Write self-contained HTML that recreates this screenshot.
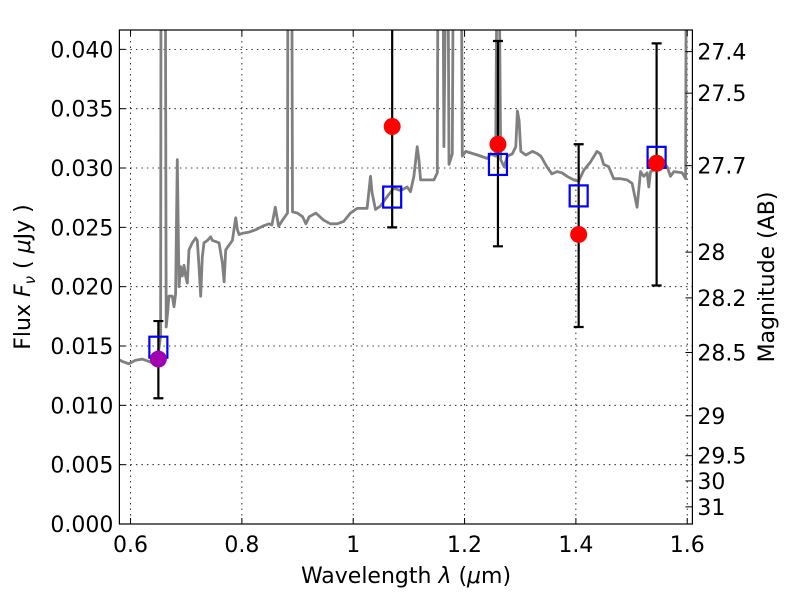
<!DOCTYPE html>
<html><head><meta charset="utf-8"><style>
body{margin:0;background:#fff}
svg text{font-family:"DejaVu Sans","Liberation Sans",sans-serif;fill:#000}
</style></head><body>
<svg id="chart" width="800" height="600" viewBox="0 0 800 600" xmlns="http://www.w3.org/2000/svg">
<defs><clipPath id="plotclip"><rect x="119.4" y="30" width="573" height="494"/></clipPath></defs>
<rect width="800" height="600" fill="#fff"/>
<g id="grid"></g>
<g id="spec" clip-path="url(#plotclip)"></g>
<g id="marks" clip-path="url(#plotclip)"></g>
<rect x="119.4" y="30" width="573" height="494" fill="none" stroke="#000" stroke-width="1.2"/>
<g id="axes"></g>
<text x="406" y="583" font-size="22" text-anchor="middle">Wavelength  <tspan font-style="italic">λ</tspan> (<tspan font-style="italic">μ</tspan>m)</text>
<text transform="translate(30,277) rotate(-90)" font-size="22" text-anchor="middle">Flux  <tspan font-style="italic">F</tspan><tspan font-style="italic" font-size="15" dy="5">ν</tspan><tspan dy="-5">  ( </tspan><tspan font-style="italic">μ</tspan>Jy )</text>
<text transform="translate(774,277) rotate(-90)" font-size="22" text-anchor="middle">Magnitude (AB)</text>
</svg>
<script>
const specLam=[0.573,0.585,0.597,0.609,0.621,0.633,0.642,0.648,0.654,0.655,0.662,0.664,0.667,0.669,0.675,0.678,0.681,0.684,0.687,0.690,0.693,0.696,0.699,0.702,0.705,0.711,0.717,0.720,0.723,0.726,0.729,0.732,0.738,0.744,0.747,0.753,0.759,0.765,0.768,0.771,0.777,0.783,0.789,0.792,0.795,0.801,0.813,0.825,0.837,0.849,0.854,0.860,0.866,0.873,0.882,0.883,0.889,0.891,0.900,0.909,0.915,0.921,0.933,0.947,0.959,0.971,0.983,0.995,1.007,1.025,1.031,1.034,1.040,1.049,1.061,1.073,1.085,1.097,1.103,1.109,1.115,1.118,1.121,1.145,1.151,1.153,1.160,1.163,1.169,1.172,1.178,1.181,1.193,1.196,1.202,1.223,1.241,1.247,1.256,1.260,1.265,1.271,1.277,1.286,1.292,1.295,1.298,1.301,1.310,1.322,1.331,1.337,1.348,1.357,1.366,1.375,1.384,1.396,1.405,1.414,1.426,1.438,1.444,1.450,1.459,1.468,1.480,1.492,1.501,1.510,1.516,1.522,1.528,1.531,1.534,1.546,1.558,1.564,1.570,1.576,1.591,1.597,1.599,1.620];
const specFlux=[0.0140,0.0137,0.0135,0.0138,0.0139,0.0137,0.0135,0.0138,0.0158,0.060,0.060,0.0166,0.0180,0.0192,0.0192,0.0183,0.0194,0.0307,0.0200,0.0217,0.0209,0.0218,0.0209,0.0203,0.0231,0.0237,0.0241,0.0239,0.0217,0.0192,0.0225,0.0237,0.0239,0.0242,0.0239,0.0238,0.0237,0.0220,0.0204,0.0231,0.0235,0.0239,0.0258,0.0248,0.0244,0.0245,0.0246,0.0248,0.0251,0.0253,0.0252,0.0267,0.0251,0.0256,0.0262,0.060,0.060,0.0263,0.0262,0.0259,0.0253,0.0259,0.0262,0.0256,0.0253,0.0253,0.0255,0.0262,0.0266,0.0266,0.0293,0.0279,0.0265,0.0268,0.0276,0.0283,0.0281,0.0284,0.0280,0.0293,0.0318,0.0307,0.0290,0.0290,0.0296,0.060,0.060,0.0318,0.060,0.0303,0.0312,0.060,0.060,0.0310,0.0314,0.0311,0.0308,0.0312,0.0310,0.060,0.0307,0.0301,0.0310,0.0312,0.0318,0.0348,0.0340,0.0314,0.0311,0.0314,0.0312,0.0310,0.0301,0.0295,0.0297,0.0296,0.0293,0.0290,0.0289,0.0298,0.0305,0.0314,0.0312,0.0303,0.0301,0.0291,0.0291,0.0290,0.0287,0.0267,0.0297,0.0293,0.0296,0.0284,0.0297,0.0300,0.0304,0.0301,0.0293,0.0297,0.0296,0.0291,0.060,0.060];
const obsLam=[1.07,1.26,1.405,1.545];
const obsFlux=[0.0335,0.0320,0.0244,0.0304];
const errLow=[0.0250,0.0234,0.0166,0.0201];
const errHigh=[0.0430,0.0407,0.0320,0.0405];
const limLam=[0.65];
const limFlux=[0.0139];
const limLow=[0.0106];
const limHigh=[0.0171];
const modelLam=[0.65,1.07,1.26,1.405,1.545];
const modelFlux=[0.0149,0.02755,0.0303,0.02765,0.0309];
const xTicks=[0.6,0.8,1.0,1.2,1.4,1.6];
const xTickLabels=["0.6","0.8","1","1.2","1.4","1.6"];
const yTicks=[0,0.005,0.01,0.015,0.02,0.025,0.03,0.035,0.04];
const yTickLabels=["0.000","0.005","0.010","0.015","0.020","0.025","0.030","0.035","0.040"];
const magTicks=[27.4,27.5,27.7,28,28.2,28.5,29,29.5,30,31];
const magTickLabels=["27.4","27.5","27.7","28","28.2","28.5","29","29.5","30","31"];

const X0=119.4,X1=692.4,Y0=30,Y1=524;
const xMin=0.58,xMax=1.6093,yMin=0,yMax=0.04163;
const sx=v=>X0+(v-xMin)/(xMax-xMin)*(X1-X0);
const sy=v=>Y1-(v-yMin)/(yMax-yMin)*(Y1-Y0);
const magToFlux=m=>Math.pow(10,(23.9-m)/2.5);
const NS="http://www.w3.org/2000/svg";
function mk(tag,parent,attrs){const e=document.createElementNS(NS,tag);for(const k in attrs)e.setAttribute(k,attrs[k]);parent.appendChild(e);return e;}
const grid=document.getElementById('grid'),axes=document.getElementById('axes'),spec=document.getElementById('spec'),marks=document.getElementById('marks');

xTicks.forEach((t,i)=>{const x=sx(t);
 const g=mk('line',grid,{x1:x,x2:x,y1:Y0,y2:Y1,stroke:'#000','stroke-width':0.8,'stroke-dasharray':'1.5,4'});
 
 
 mk('line',axes,{x1:x,x2:x,y1:Y1,y2:Y1-6,stroke:'#000','stroke-width':1});
 mk('line',axes,{x1:x,x2:x,y1:Y0,y2:Y0+6,stroke:'#000','stroke-width':1});
 const tx=mk('text',axes,{x:x,y:Y1+28,'font-size':22,'text-anchor':'middle'});tx.textContent=xTickLabels[i];
 
 
});
yTicks.forEach((t,i)=>{const y=sy(t);
 const g=mk('line',grid,{x1:X0,x2:X1,y1:y,y2:y,stroke:'#000','stroke-width':0.8,'stroke-dasharray':'1.5,4'});
 
 
 mk('line',axes,{x1:X0,x2:X0+6,y1:y,y2:y,stroke:'#000','stroke-width':1});
 const tx=mk('text',axes,{x:X0-6,y:y+8,'font-size':22,'text-anchor':'end'});tx.textContent=yTickLabels[i];
 
 
});
magTicks.forEach((m,i)=>{const y=sy(magToFlux(m));
 mk('line',axes,{x1:X1,x2:X1-7,y1:y,y2:y,stroke:'#000','stroke-width':1});
 const tx=mk('text',axes,{x:X1+5,y:y+8,'font-size':22,'text-anchor':'start'});tx.textContent=magTickLabels[i];
 
 
});

let d='';specLam.forEach((l,i)=>{d+=(i?'L':'M')+sx(l).toFixed(1)+','+sy(specFlux[i]).toFixed(1);});
const p=mk('path',spec,{d:d,fill:'none',stroke:'#808080','stroke-width':2.8,'stroke-linejoin':'round'});



function errbar(l,lo,hi){const x=sx(l);
 const e=mk('path',marks,{d:`M${x},${sy(lo)}V${sy(hi)}M${x-5},${sy(lo)}H${x+5}M${x-5},${sy(hi)}H${x+5}`,stroke:'#000','stroke-width':2.2,fill:'none'});
 
 
}
obsLam.forEach((l,i)=>errbar(l,errLow[i],errHigh[i]));
limLam.forEach((l,i)=>errbar(l,limLow[i],limHigh[i]));
modelLam.forEach((l,i)=>{
 const r=mk('rect',marks,{x:sx(l)-9,y:sy(modelFlux[i])-10.5,width:18,height:21,fill:'none',stroke:'#0000ff','stroke-width':2.2});
 
 
});
obsLam.forEach((l,i)=>{
 const c=mk('circle',marks,{cx:sx(l),cy:sy(obsFlux[i]),r:8.5,fill:'#ff0000'});
 
 
});
limLam.forEach((l,i)=>{
 const c=mk('circle',marks,{cx:sx(l),cy:sy(limFlux[i]),r:8.5,fill:'#a000b0'});
 
 
});
</script>
</body></html>
